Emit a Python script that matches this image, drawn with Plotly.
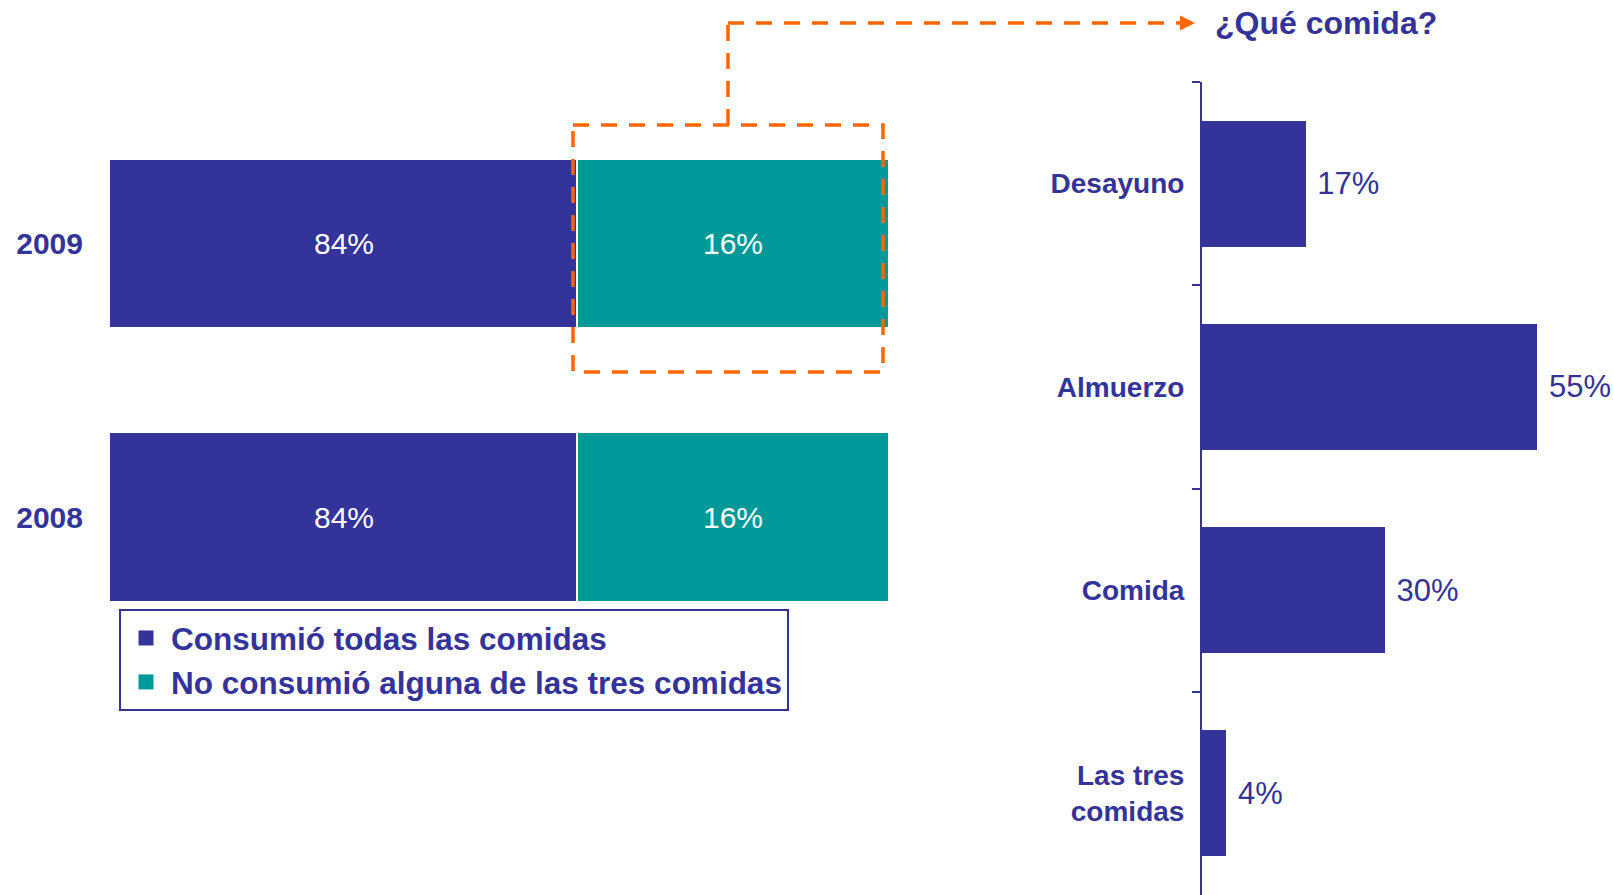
import plotly.graph_objects as go

# data
years = ["2008", "2009"]
all_meals = [84, 84]
skipped = [16, 16]
series_names = ["Consumió todas las comidas", "No consumió alguna de las tres comidas"]

meals = ["Desayuno", "Almuerzo", "Comida", "Las tres<br>comidas"]
meal_pct = [17, 55, 30, 4]

blue = "#333399"
teal = "#009999"
orange = "#ff6600"
W, H = 1613, 895
left_min = 60  # axis of the stacked chart starts at 60%


def px(x):
    return x / W


def py(y):
    return 1 - y / H


fig = go.Figure()

for vals, name, col in [(all_meals, series_names[0], blue), (skipped, series_names[1], teal)]:
    fig.add_trace(go.Bar(y=years, x=vals, orientation="h", name=name, showlegend=False,
                         marker=dict(color=col, line=dict(color="white", width=2)),
                         xaxis="x", yaxis="y"))
    # legend entry with a square swatch
    fig.add_trace(go.Scatter(x=[None], y=[None], mode="markers", name=name,
                             marker=dict(symbol="square", size=15, color=col),
                             xaxis="x", yaxis="y"))

fig.add_trace(go.Bar(y=meals, x=meal_pct, orientation="h", showlegend=False,
                     marker=dict(color=blue, line=dict(width=0)),
                     text=[f" {v}%" for v in meal_pct], textposition="outside",
                     textfont=dict(family="Liberation Sans, Arial", size=31, color=blue),
                     cliponaxis=False, xaxis="x2", yaxis="y2"))

# labels inside the stacked bars (visible part starts at left_min)
annotations = []
for i, (a, s) in enumerate(zip(all_meals, skipped)):
    annotations.append(dict(x=(left_min + a) / 2, y=i, xref="x", yref="y", text=f"{a}%",
                            showarrow=False, font=dict(size=30, color="white")))
    annotations.append(dict(x=a + s / 2, y=i, xref="x", yref="y", text=f"{s}%",
                            showarrow=False, font=dict(size=30, color="white")))

annotations.append(dict(x=px(1213), y=py(23), xref="paper", yref="paper", xanchor="left",
                        yanchor="middle", text="¿Qué comida?", showarrow=False,
                        font=dict(size=32, color=blue, weight="bold")))
# arrow head
annotations.append(dict(x=px(1195), y=py(23), xref="paper", yref="paper", text="",
                        showarrow=True, ax=-16, ay=0, arrowhead=2, arrowsize=1,
                        arrowwidth=3, arrowcolor=orange))

dash = dict(color=orange, width=3.5, dash="16px,12px")
shapes = [
    dict(type="rect", xref="paper", yref="paper", x0=px(573), x1=px(883), y0=py(125), y1=py(372),
         line=dash),
    dict(type="line", xref="paper", yref="paper", x0=px(728), x1=px(728), y0=py(125), y1=py(23),
         line=dash),
    dict(type="line", xref="paper", yref="paper", x0=px(728), x1=px(1182), y0=py(23), y1=py(23),
         line=dash),
]

fig.update_layout(
    width=W, height=H,
    margin=dict(l=0, r=0, t=0, b=0),
    paper_bgcolor="white", plot_bgcolor="white",
    barmode="stack", bargap=0.38,
    font=dict(family="Liberation Sans, Arial", color=blue),
    xaxis=dict(domain=[px(110), px(889)], range=[left_min, 100], visible=False, anchor="y"),
    yaxis=dict(domain=[py(653.75), py(106.75)], type="category", categoryorder="array",
               categoryarray=years, range=[-0.5, 1.5], showgrid=False, showline=False,
               zeroline=False, ticks="", ticklabelstandoff=26, anchor="x",
               tickfont=dict(size=30, color=blue, weight="bold")),
    xaxis2=dict(domain=[px(1202), 1.0], range=[0, 67.4], visible=False, anchor="y2"),
    yaxis2=dict(domain=[0, py(82)], type="category", categoryorder="array",
                categoryarray=meals, range=[3.5, -0.5], showgrid=False,
                showline=True, linecolor=blue, linewidth=2,
                ticks="outside", tickson="boundaries", ticklen=8, tickwidth=2, tickcolor=blue,
                ticklabelstandoff=10, anchor="x2",
                tickfont=dict(size=28, color=blue, weight="bold")),
    legend=dict(x=px(119), y=py(609), xanchor="left", yanchor="top", itemwidth=40,
                bordercolor=blue, borderwidth=2, bgcolor="white", traceorder="normal",
                font=dict(size=31.5, color=blue, weight="bold")),
    annotations=annotations,
    shapes=shapes,
)

fig.write_html("out.html", config={"displayModeBar": False},
               post_script="document.body.style.margin = '0';")
